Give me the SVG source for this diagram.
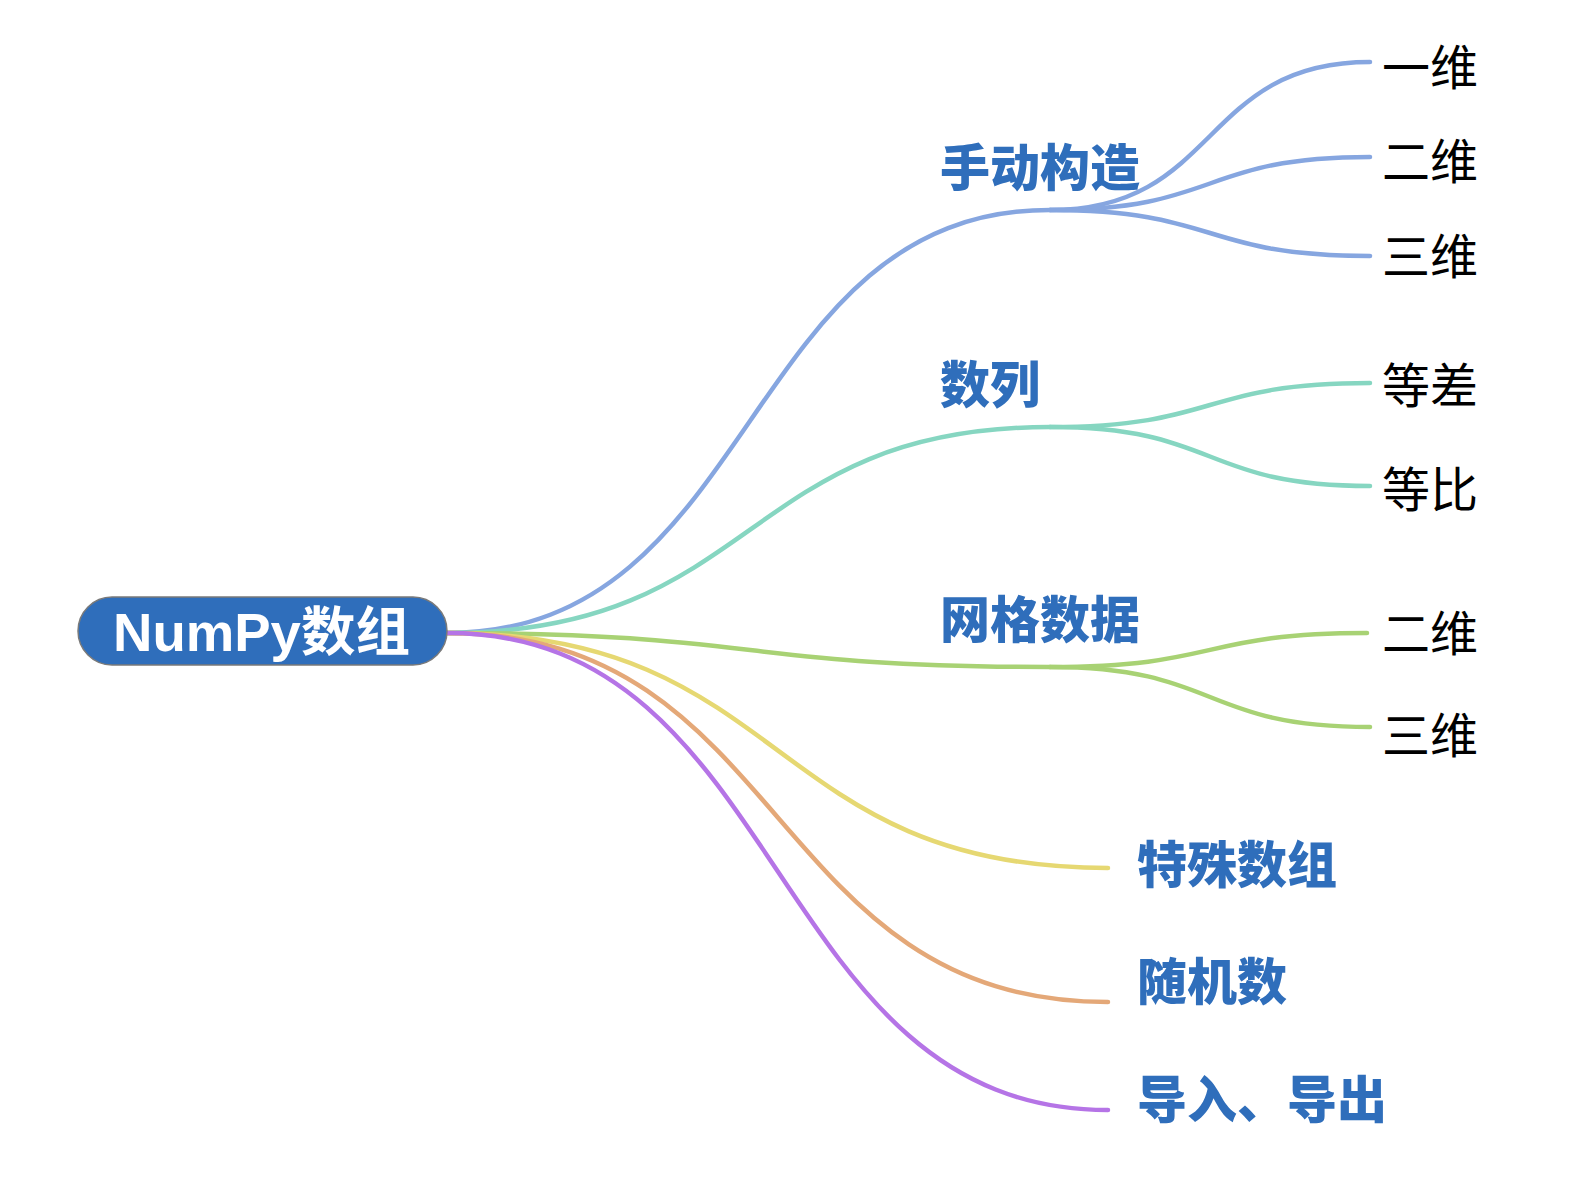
<svg xmlns="http://www.w3.org/2000/svg" width="1574" height="1200" viewBox="0 0 1574 1200">
<style>
.l{fill:none;stroke-width:4.5;stroke-linecap:round}
.b{stroke:#86a6e0}.t{stroke:#86d6c1}.g{stroke:#a8d274}.y{stroke:#e6d872}.o{stroke:#e4a878}.p{stroke:#b574e6}
.h{font-family:"Noto Sans CJK SC","Liberation Sans",sans-serif;font-weight:900;font-size:50px;fill:#2f6ebb}
.n{font-family:"Noto Sans CJK SC","Liberation Sans",sans-serif;font-size:48px;fill:#000}
</style>
<rect width="1574" height="1200" fill="#fff"/>
<g id="connectors">
<path class="l b" d="M447,633 C760,633 740,210 1050,210"/>
<path class="l b" d="M1050,210 C1220,210 1200,62 1370,62"/>
<path class="l b" d="M1050,210 C1220,210 1200,157 1370,157"/>
<path class="l b" d="M1050,210 C1220,210 1200,256 1370,256"/>
<path class="l t" d="M447,633 C760,633 740,427 1050,427"/>
<path class="l t" d="M1050,427 C1220,427 1200,383 1370,383"/>
<path class="l t" d="M1050,427 C1220,427 1200,486 1370,486"/>
<path class="l g" d="M447,633 C760,633 740,667 1050,667"/>
<path class="l g" d="M1050,667 C1220,667 1200,633 1367,633"/>
<path class="l g" d="M1050,667 C1220,667 1200,727 1370,727"/>
<path class="l y" d="M447,633 C790,633 766,868 1108,868"/>
<path class="l o" d="M447,633 C790,633 766,1002 1108,1002"/>
<path class="l p" d="M447,633 C790,633 766,1110 1108,1110"/>
</g>
<g id="root">
<rect x="78" y="597" width="369" height="68" rx="34" fill="#2f6ebb" stroke="#7a7a7a" stroke-width="1.5"/>
<text x="113" y="651" textLength="297" lengthAdjust="spacingAndGlyphs" font-family="'Liberation Sans','Noto Sans CJK SC',sans-serif" font-weight="bold" font-size="53" fill="#fff">NumPy数组</text>
</g>
<g id="n1"><text class="h" x="940" y="186">手动构造</text></g>
<g id="n1a"><text class="n" x="1382" y="85">一维</text></g>
<g id="n1b"><text class="n" x="1382" y="179">二维</text></g>
<g id="n1c"><text class="n" x="1382" y="274">三维</text></g>
<g id="n2"><text class="h" x="940" y="403">数列</text></g>
<g id="n2a"><text class="n" x="1382" y="403">等差</text></g>
<g id="n2b"><text class="n" x="1382" y="507">等比</text></g>
<g id="n3"><text class="h" x="940" y="638">网格数据</text></g>
<g id="n3a"><text class="n" x="1382" y="651">二维</text></g>
<g id="n3b"><text class="n" x="1382" y="753">三维</text></g>
<g id="n4"><text class="h" x="1137" y="883">特殊数组</text></g>
<g id="n5"><text class="h" x="1137" y="1000">随机数</text></g>
<g id="n6"><text class="h" x="1137" y="1118">导入、导出</text></g>
</svg>
